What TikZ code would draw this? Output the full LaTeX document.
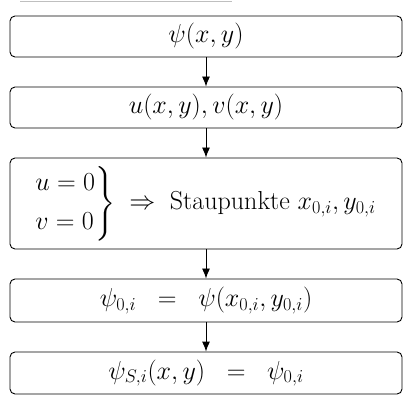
\RequirePackage{fix-cm}
\documentclass[tikz,border=0pt]{standalone}
\usepackage{amsmath}
\usetikzlibrary{arrows.meta}
\begin{document}
\begin{tikzpicture}[x=1pt,y=1pt,
  stepbox/.style={draw, line width=0.9pt, rounded corners=5pt, minimum width=392pt, inner sep=0pt,
    font=\fontsize{26}{31}\selectfont},
  arr/.style={line width=0.9pt, -{Latex[length=10pt,width=8pt]}}]
\useasboundingbox (0,0) rectangle (406,404);
\draw[black!25, line width=0.8pt] (20,403) -- (232,403);
\node[stepbox, minimum height=41pt] (b1) at (206,404-36.5) {$\psi(x,y)$};
\node[stepbox, minimum height=41pt] (b2) at (206,404-107.5) {$u(x,y),v(x,y)$};
\node[stepbox, minimum height=91pt] (b3) at (206,404-203.5)
  {\hspace*{-2pt}$\left.\begin{array}{@{}l@{}} u=0\\[8pt] v=0\end{array}\right\}\;\Rightarrow\;\text{Staupunkte }x_{0,i},y_{0,i}$};
\node[stepbox, minimum height=43pt] (b4) at (206,404-300.5) {$\psi_{0,i}\;\;=\;\;\psi(x_{0,i},y_{0,i})$};
\node[stepbox, minimum height=42pt] (b5) at (206,404-373) {$\psi_{S,i}(x,y)\;\;=\;\;\psi_{0,i}$};
\draw[arr] (b1.south) -- (b2.north);
\draw[arr] (b2.south) -- (b3.north);
\draw[arr] (b3.south) -- (b4.north);
\draw[arr] (b4.south) -- (b5.north);
\end{tikzpicture}
\end{document}
